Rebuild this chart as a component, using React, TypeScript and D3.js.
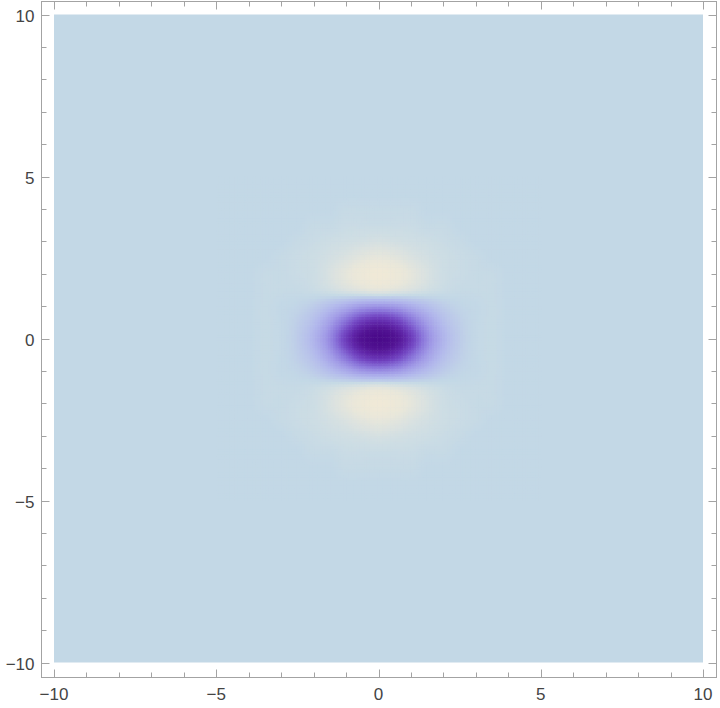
import React, { useEffect, useRef } from 'react';
import * as d3 from 'd3';

// sample positions of one quadrant (x >= 0, y >= 0); the plot is mirrored into the other three
const gridSteps = [0, 0.5, 1, 1.5, 2, 2.5, 3, 3.5, 4, 4.5, 5];

// rows: y = 0 .. 5, columns: x = 0 .. 5
const quadrantValues = [
  [-1.0, -0.88, -0.61, -0.32, -0.14, -0.04, 0.0, 0.01, 0.0, 0, 0],
  [-0.72, -0.64, -0.44, -0.24, -0.1, -0.03, 0.0, 0.01, 0.0, 0, 0],
  [-0.29, -0.26, -0.18, -0.1, -0.04, -0.01, 0.0, 0.01, 0.0, 0, 0],
  [0.12, 0.1, 0.07, 0.04, 0.02, 0.01, 0.01, 0.01, 0.0, 0, 0],
  [0.22, 0.19, 0.13, 0.07, 0.03, 0.02, 0.01, 0.01, 0, 0, 0],
  [0.14, 0.12, 0.08, 0.05, 0.03, 0.02, 0.01, 0, 0, 0, 0],
  [0.06, 0.05, 0.04, 0.03, 0.02, 0.01, 0, 0, 0, 0, 0],
  [0.02, 0.02, 0.02, 0.01, 0.01, 0, 0, 0, 0, 0, 0],
  [0.01, 0.01, 0.01, 0, 0, 0, 0, 0, 0, 0, 0],
  [0, 0, 0, 0, 0, 0, 0, 0, 0, 0, 0],
  [0, 0, 0, 0, 0, 0, 0, 0, 0, 0, 0],
];

const majorTicks = [-10, -5, 0, 5, 10];
const tickLabels = ['\u221210', '\u22125', '0', '5', '10'];
const minorTicks = [-9, -8, -7, -6, -4, -3, -2, -1, 1, 2, 3, 4, 6, 7, 8, 9];

// colour gradient: value -> colour
const colorDomain = [-1.0, -0.85, -0.7, -0.55, -0.4, -0.25, -0.12, -0.04, 0.0, 0.03, 0.08, 0.15, 0.22];
const colorRange = [
  '#4a0a8a', '#531494', '#6229ab', '#7448c4', '#8a74da', '#a29ce7', '#b3b9ec',
  '#bdcbe9', '#c3d8e6', '#cddde4', '#dbe2e0', '#e9e7da', '#f0e9d7',
];

function catmull(p0: number, p1: number, p2: number, p3: number, t: number) {
  return 0.5 * ((2 * p1) + (-p0 + p2) * t + (2 * p0 - 5 * p1 + 4 * p2 - p3) * t * t + (-p0 + 3 * p1 - 3 * p2 + p3) * t * t * t);
}

export default function App() {
  const ref = useRef<SVGSVGElement>(null);

  useEffect(() => {
    const svg = d3.select(ref.current);
    svg.selectAll('*').remove();

    const x = d3.scaleLinear().domain([-10, 10]).range([54, 703]);
    const y = d3.scaleLinear().domain([-10, 10]).range([662.5, 14.5]);
    const color = d3.scaleLinear<string>().domain(colorDomain).range(colorRange).clamp(true);

    // full grid from the quadrant
    const coords = [...gridSteps.slice(1).map(d => -d).reverse(), ...gridSteps];
    const n = coords.length;
    const mid = gridSteps.length - 1;
    const val = (i: number, j: number) => {
      const ii = Math.min(Math.max(i, 0), n - 1);
      const jj = Math.min(Math.max(j, 0), n - 1);
      return quadrantValues[Math.abs(ii - mid)][Math.abs(jj - mid)];
    };
    const step = coords[1] - coords[0];
    const sample = (px: number, py: number) => {
      const fx = (px - coords[0]) / step;
      const fy = (py - coords[0]) / step;
      const ix = Math.floor(fx), iy = Math.floor(fy);
      const tx = fx - ix, ty = fy - iy;
      const rows = [-1, 0, 1, 2].map(dy =>
        catmull(val(iy + dy, ix - 1), val(iy + dy, ix), val(iy + dy, ix + 1), val(iy + dy, ix + 2), tx));
      return catmull(rows[0], rows[1], rows[2], rows[3], ty);
    };

    // background of the plot range
    svg.append('rect')
      .attr('x', x(-10)).attr('y', y(10))
      .attr('width', x(10) - x(-10)).attr('height', y(-10) - y(10))
      .attr('fill', color(0));

    // density cells
    const cell = 0.08;
    const cells: { cx: number; cy: number; v: number }[] = [];
    const lo = coords[0], hi = coords[n - 1];
    for (let cy = lo; cy < hi - 1e-9; cy += cell) {
      for (let cx = lo; cx < hi - 1e-9; cx += cell) {
        cells.push({ cx, cy, v: sample(cx + cell / 2, cy + cell / 2) });
      }
    }
    svg.append('g')
      .selectAll('rect')
      .data(cells)
      .join('rect')
      .attr('x', d => x(d.cx))
      .attr('y', d => y(d.cy + cell))
      .attr('width', x(cell) - x(0) + 0.5)
      .attr('height', y(0) - y(cell) + 0.5)
      .attr('fill', d => color(d.v));

    // frame
    const left = 41.5, right = 716.5, top = 1.5, bottom = 677.5;
    const frameColor = '#a3a3a3';
    svg.append('rect')
      .attr('x', left).attr('y', top)
      .attr('width', right - left).attr('height', bottom - top)
      .attr('fill', 'none').attr('stroke', frameColor).attr('stroke-width', 1);

    const ticks = svg.append('g').attr('stroke', frameColor).attr('stroke-width', 1);
    const addTicks = (vals: number[], len: number) => {
      vals.forEach(v => {
        const px = Math.round(x(v)) + 0.5;
        const py = Math.round(y(v)) + 0.5;
        ticks.append('line').attr('x1', px).attr('x2', px).attr('y1', bottom).attr('y2', bottom - len);
        ticks.append('line').attr('x1', px).attr('x2', px).attr('y1', top).attr('y2', top + len);
        ticks.append('line').attr('y1', py).attr('y2', py).attr('x1', left).attr('x2', left + len);
        ticks.append('line').attr('y1', py).attr('y2', py).attr('x1', right).attr('x2', right - len);
      });
    };
    addTicks(majorTicks, 8);
    addTicks(minorTicks, 5);

    const labels = svg.append('g')
      .attr('font-family', 'Liberation Sans, Arial, sans-serif')
      .attr('font-size', 17)
      .attr('fill', '#444444');
    majorTicks.forEach((v, i) => {
      labels.append('text')
        .attr('x', x(v)).attr('y', 700)
        .attr('text-anchor', 'middle')
        .text(tickLabels[i]);
      labels.append('text')
        .attr('x', 34.5).attr('y', y(v) + 7)
        .attr('text-anchor', 'end')
        .text(tickLabels[i]);
    });
  }, []);

  return (
    <svg ref={ref} width={720} height={708}
      style={{ position: 'absolute', left: 0, top: 0, background: '#ffffff' }} />
  );
}
